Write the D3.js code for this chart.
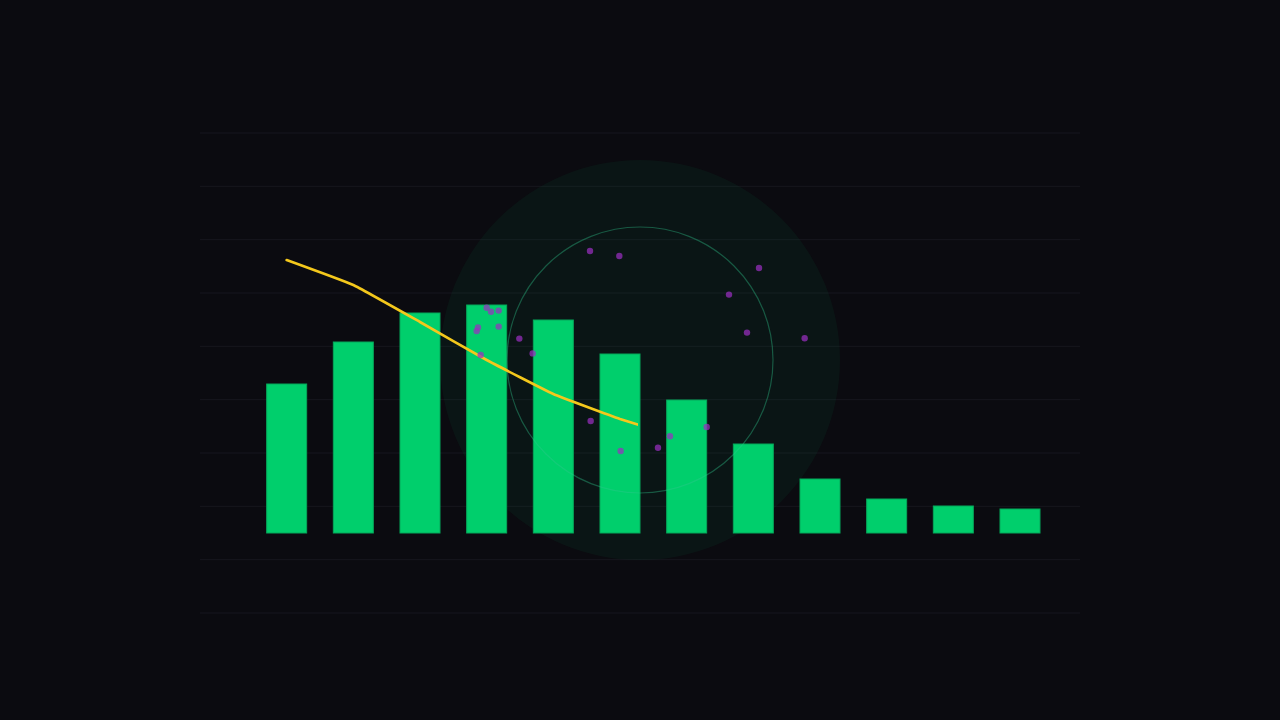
<!DOCTYPE html>
<html>
<head>
<meta charset="utf-8">
<script src="https://cdn.jsdelivr.net/npm/d3@7"></script>
<style>
  html, body { margin: 0; padding: 0; background: #0b0b10; }
  svg { display: block; }
</style>
</head>
<body>
<svg id="chart" width="1280" height="720"></svg>
<script>
// ---- data ----
const categories = ["1","2","3","4","5","6","7","8","9","10","11","12"];
const barValues = [37.25, 47.75, 55, 57, 53.25, 44.75, 33.25, 22.25, 13.5, 8.5, 6.75, 6];
const lineValues = [68.25, 62, 52.75, 43.25, 34.75, 28.5, 23.25];
const dotX = [3.50, 3.565, 3.68, 3.37, 3.35, 3.68, 3.99, 4.19, 3.41, 5.06, 5.51, 6.07, 6.25, 6.80, 5.05, 5.49, 7.585, 7.135, 7.405, 8.27];
const dotY = [56.3, 55.3, 55.6, 51.4, 50.5, 51.6, 48.6, 44.9, 44.5, 28.0, 20.5, 21.3, 24.2, 26.5, 70.5, 69.25, 66.25, 59.6, 50.1, 48.7];
const gridLines = d3.range(10);
const lineProgress = 5.77; // line drawn up to this category position

// ---- layout ----
const W = 1280, H = 720;
const svg = d3.select("#chart");
svg.append("rect").attr("width", W).attr("height", H).attr("fill", "#0b0b10");

const x = d3.scaleBand().domain(categories).range([253.33, 1053.33]).paddingInner(0.4).paddingOuter(0.2);
const y = d3.scaleLinear().domain([0, 100]).range([533, 133]);
const xc = d3.scaleLinear().domain([0, 12]).range([253.33, 1053.33]);
const gy = d3.scaleLinear().domain([0, 9]).range([133, 613]);

// grid
svg.append("g").selectAll("line").data(gridLines).join("line")
  .attr("x1", 200).attr("x2", 1080)
  .attr("y1", d => gy(d)).attr("y2", d => gy(d))
  .attr("stroke", "#17171e").attr("stroke-width", 1);

// glow disc
svg.append("circle").attr("cx", W / 2).attr("cy", H / 2).attr("r", 200)
  .attr("fill", "#00c070").attr("fill-opacity", 0.055);

// bars
svg.append("g").selectAll("rect").data(barValues).join("rect")
  .attr("x", (d, i) => x(categories[i]))
  .attr("width", x.bandwidth())
  .attr("y", d => y(d))
  .attr("height", d => y(0) - y(d))
  .attr("fill", "#00cf6c")
  .attr("stroke", "#05a85a").attr("stroke-width", 1);

// ring
svg.append("circle").attr("cx", W / 2).attr("cy", H / 2).attr("r", 133)
  .attr("fill", "none").attr("stroke", "#2fc98e").attr("stroke-opacity", 0.38).attr("stroke-width", 1.2);

// line
svg.append("clipPath").attr("id", "lineClip").append("rect")
  .attr("x", 0).attr("y", 0).attr("width", xc(lineProgress)).attr("height", H);
const line = d3.line()
  .x((d, i) => x(categories[i]) + x.bandwidth() / 2)
  .y(d => y(d))
  .curve(d3.curveCardinal.tension(0.7));
svg.append("path").datum(lineValues)
  .attr("d", line)
  .attr("clip-path", "url(#lineClip)")
  .attr("fill", "none").attr("stroke", "#f4c81c").attr("stroke-width", 2.6)
  .attr("stroke-linecap", "round");

// dots
svg.append("g").selectAll("circle").data(dotX).join("circle")
  .attr("cx", d => xc(d))
  .attr("cy", (d, i) => y(dotY[i]))
  .attr("r", 3.2)
  .attr("fill", "#9a2fc0").attr("fill-opacity", 0.72);
</script>
</body>
</html>
